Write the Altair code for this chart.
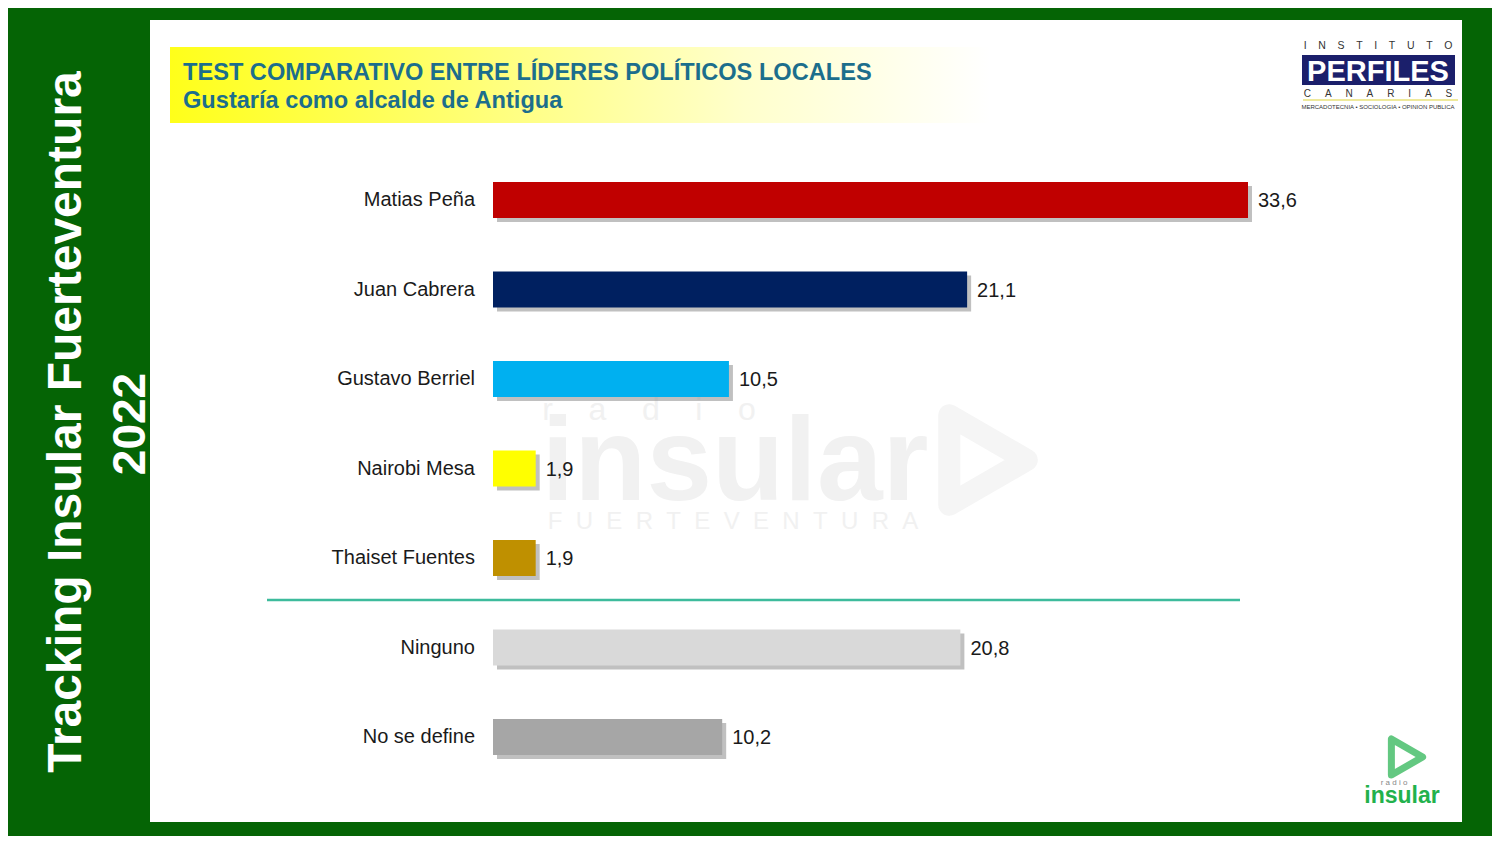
import altair as alt
import pandas as pd

names = ["Matias Peña", "Juan Cabrera", "Gustavo Berriel", "Nairobi Mesa",
         "Thaiset Fuentes", "Ninguno", "No se define"]
values = [33.6, 21.1, 10.5, 1.9, 1.9, 20.8, 10.2]
colors = ["#c00000", "#002060", "#00b0f0", "#ffff00", "#bf9000", "#d9d9d9", "#a6a6a6"]
labels = [f"{v:.1f}".replace(".", ",") for v in values]

title = "TEST COMPARATIVO ENTRE LÍDERES POLÍTICOS LOCALES"
subtitle = "Gustaría como alcalde de Antigua"
side1 = "Tracking Insular Fuerteventura"
side2 = "2022"

df = pd.DataFrame({"name": names, "value": values, "label": labels})
one = pd.DataFrame({"k": [0]})

FONT = "Liberation Sans"
NB = "\u00a0"


def spaced(word, n):
    return (NB * n).join(list(word))


xs = alt.Scale(domain=[0, 33.6], range=[485, 1240], nice=False, zero=True)
ys = alt.Scale(domain=names, range=[147.25, 773.75], paddingInner=0.6, paddingOuter=0.3)
cs = alt.Scale(domain=names, range=colors)


def txt(s, x, y, **kw):
    return alt.Chart(one).mark_text(**kw).encode(
        x=alt.value(x), y=alt.value(y), text=alt.value(s))


def rect(x, x2, y, y2, **kw):
    return alt.Chart(one).mark_rect(**kw).encode(
        x=alt.value(x), x2=alt.value(x2), y=alt.value(y), y2=alt.value(y2))


panel = rect(142, 1454, 12, 814, color="white")

grad = alt.Gradient(
    gradient="linear",
    stops=[alt.GradientStop(offset=0, color="#ffff1a"),
           alt.GradientStop(offset=0.35, color="#ffff70"),
           alt.GradientStop(offset=0.7, color="#ffffcc"),
           alt.GradientStop(offset=1, color="#ffffff")],
    x1=0, x2=1, y1=0, y2=0)
title_box = rect(162, 982, 39, 115, color=grad)

t1 = txt(title, 175, 72, font=FONT, fontSize=23.6, fontWeight="bold", color="#1c6e8c",
         align="left", baseline="alphabetic")
t2 = txt(subtitle, 175, 100, font=FONT, fontSize=23.6, fontWeight="bold", color="#1c6e8c",
         align="left", baseline="alphabetic")

s1 = txt(side1, 73, 414, font=FONT, fontSize=48, fontWeight="bold", color="white",
         angle=270, align="center", baseline="alphabetic")
s2 = txt(side2, 137, 416, font=FONT, fontSize=46, fontWeight="bold", color="white",
         angle=270, align="center", baseline="alphabetic")

# watermark
wm_color = "#f1f1f1"
w1 = txt("insular", 727, 492, font=FONT, fontSize=118, fontWeight="bold", color=wm_color,
         align="center", baseline="alphabetic")
w2 = txt(spaced("radio", 4), 641, 412, font=FONT, fontSize=32, color=wm_color,
         align="center", baseline="alphabetic")
w3 = txt(spaced("FUERTEVENTURA", 2), 725, 521, font=FONT, fontSize=24, color=wm_color,
         align="center", baseline="alphabetic")
w4 = alt.Chart(one).mark_point(shape="triangle-right", size=8000, filled=False,
                               stroke=wm_color, strokeWidth=22, strokeJoin="round").encode(
    x=alt.value(980), y=alt.value(452))

shadow = alt.Chart(df).mark_bar(color="#8c8c8c", opacity=0.55, xOffset=4, x2Offset=4,
                                yOffset=4, y2Offset=4).encode(
    y=alt.Y("name:N", scale=ys, axis=None, sort=names),
    x=alt.X("value:Q", scale=xs, axis=None),
)
bars = alt.Chart(df).mark_bar().encode(
    y=alt.Y("name:N", scale=ys, axis=None, sort=names),
    x=alt.X("value:Q", scale=xs, axis=None),
    color=alt.Color("name:N", scale=cs, legend=None),
)
vals = alt.Chart(df).mark_text(align="left", baseline="middle", dx=10, dy=1, font=FONT,
                               fontSize=20, color="#1a1a1a").encode(
    y=alt.Y("name:N", scale=ys, axis=None, sort=names),
    x=alt.X("value:Q", scale=xs, axis=None),
    text="label:N",
)
cats = alt.Chart(df).mark_text(align="right", baseline="middle", font=FONT,
                               fontSize=20, color="#1a1a1a").encode(
    y=alt.Y("name:N", scale=ys, axis=None, sort=names),
    x=alt.value(467),
    text="name:N",
)

sep = alt.Chart(one).mark_rule(color="#3dbb9c", strokeWidth=2.5).encode(
    x=alt.value(259), x2=alt.value(1232), y=alt.value(592))

# Perfiles logo
l1 = txt(spaced("INSTITUTO", 4), 1370, 41, font=FONT, fontSize=10.5, color="#333",
         align="center", baseline="alphabetic")
l2 = rect(1294, 1447, 47, 77, color="#1b1f6b")
l3 = txt("PERFILES", 1370, 73, font=FONT, fontSize=29, fontWeight="bold", color="white",
         align="center", baseline="alphabetic")
l4 = txt(spaced("CANARIAS", 5), 1370, 89, font=FONT, fontSize=10, color="#333",
         align="center", baseline="alphabetic")
l5 = alt.Chart(one).mark_rule(color="#e8e27a", strokeWidth=1.5).encode(
    x=alt.value(1295), x2=alt.value(1450), y=alt.value(92))
l6 = txt("MERCADOTECNIA • SOCIOLOGIA • OPINION PUBLICA", 1370, 101, font=FONT, fontSize=6,
         color="#333", align="center", baseline="alphabetic")

# radio insular logo
r1 = alt.Chart(one).mark_point(shape="triangle-right", size=1300, filled=False,
                               stroke="#22b14c", strokeWidth=7, strokeJoin="round").encode(
    x=alt.value(1399), y=alt.value(749))
r2 = txt("insular", 1394, 795, font=FONT, fontSize=23, fontWeight="bold", color="#22b14c",
         align="center", baseline="alphabetic")
r3 = txt(spaced("radio", 1), 1386, 777, font=FONT, fontSize=8, color="#888",
         align="center", baseline="alphabetic")

chart = alt.layer(
    panel, title_box, t1, t2, s1, s2, w1, w2, w3, w4,
    shadow, bars, vals, cats, sep, l1, l2, l3, l4, l5, l6, r1, r2, r3
).resolve_scale(color="independent").properties(
    width=1484, height=828, autosize="none", padding=0, background="#056405"
).configure_view(stroke=None)

chart.save("out.html", embed_options={"renderer": "svg", "actions": False})
